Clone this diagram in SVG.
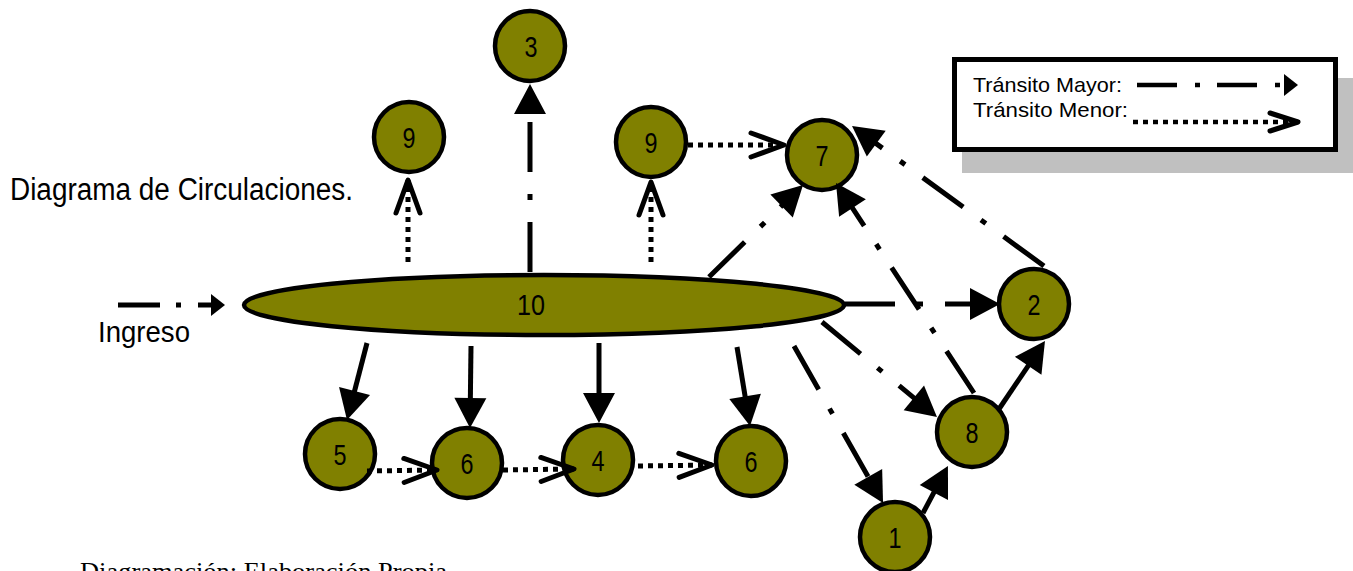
<svg xmlns="http://www.w3.org/2000/svg" width="1353" height="571" viewBox="0 0 1353 571">
  <style>
    .nd { fill: #808000; stroke: #000; stroke-width: 4.5; }
    .lbl { font-family: "Liberation Sans", Arial, sans-serif; font-size: 30px; fill: #000; text-anchor: middle; }
    .txt { font-family: "Liberation Sans", Arial, sans-serif; fill: #000; }
    .major { stroke: #000; stroke-width: 5; fill: none; stroke-dasharray: 50 22 6 22; marker-end: url(#tri); }
    .solid { stroke: #000; stroke-width: 5; fill: none; marker-end: url(#tri); }
    .minor { stroke: #000; stroke-width: 5; fill: none; stroke-dasharray: 5 5; marker-end: url(#chev); }
  </style>
  <defs>
    <marker id="tri" markerUnits="userSpaceOnUse" markerWidth="40" markerHeight="40" refX="22" refY="16" orient="auto" overflow="visible">
      <path d="M0,0 L30,16 L0,32 Z" fill="#000"/>
    </marker>
    <marker id="triS" markerUnits="userSpaceOnUse" markerWidth="20" markerHeight="26" refX="0" refY="11" orient="auto" overflow="visible">
      <path d="M0,0 L14,11 L0,22 Z" fill="#000"/>
    </marker>
    <marker id="chev" markerUnits="userSpaceOnUse" markerWidth="50" markerHeight="40" refX="35" refY="14" orient="auto" overflow="visible">
      <path d="M2,2 L35,14 L2,26" fill="none" stroke="#000" stroke-width="5" stroke-linecap="round" stroke-linejoin="round"/>
    </marker>
    <marker id="chevS" markerUnits="userSpaceOnUse" markerWidth="40" markerHeight="30" refX="30" refY="11" orient="auto" overflow="visible">
      <path d="M2,2 L30,11 L2,20" fill="none" stroke="#000" stroke-width="5" stroke-linecap="round" stroke-linejoin="round"/>
    </marker>
  </defs>

  <rect x="0" y="0" width="1353" height="571" fill="#fff"/>

  <!-- Titles -->
  <text class="txt" x="10" y="200" font-size="31" textLength="343" lengthAdjust="spacingAndGlyphs">Diagrama de Circulaciones.</text>
  <text class="txt" x="98" y="342" font-size="30" textLength="92" lengthAdjust="spacingAndGlyphs">Ingreso</text>
  <text x="80" y="580" font-family="'Liberation Serif', 'Times New Roman', serif" font-size="26" textLength="367" lengthAdjust="spacingAndGlyphs" fill="#000">Diagramación: Elaboración Propia</text>

  <!-- Legend -->
  <g id="legend">
    <rect x="962" y="78" width="391" height="95" fill="#c0c0c0"/>
    <rect x="954.5" y="59.5" width="381" height="90" fill="#fff" stroke="#000" stroke-width="5"/>
    <text class="txt" x="973" y="92" font-size="21" textLength="149" lengthAdjust="spacingAndGlyphs">Tránsito Mayor:</text>
    <text class="txt" x="973" y="117" font-size="21" textLength="155" lengthAdjust="spacingAndGlyphs">Tránsito Menor:</text>
    <line x1="1137" y1="85" x2="1284" y2="85" stroke="#000" stroke-width="4.5" stroke-dasharray="40 18 5 17" marker-end="url(#triS)"/>
    <line x1="1133" y1="122" x2="1298" y2="122" stroke="#000" stroke-width="4.5" stroke-dasharray="5 5" marker-end="url(#chevS)"/>
  </g>

  <!-- Nodes -->
  <g id="node10"><ellipse class="nd" cx="544" cy="305" rx="300" ry="30"/><text class="lbl" x="531" y="315" textLength="28" lengthAdjust="spacingAndGlyphs">10</text></g>
  <g id="node3"><circle class="nd" cx="530" cy="46" r="35"/><text class="lbl" x="531" y="57" textLength="13" lengthAdjust="spacingAndGlyphs">3</text></g>
  <g id="node9a"><circle class="nd" cx="409" cy="137" r="35"/><text class="lbl" x="409" y="148" textLength="13" lengthAdjust="spacingAndGlyphs">9</text></g>
  <g id="node9b"><circle class="nd" cx="651" cy="142" r="35"/><text class="lbl" x="651" y="153" textLength="13" lengthAdjust="spacingAndGlyphs">9</text></g>
  <g id="node7"><circle class="nd" cx="822" cy="155" r="35"/><text class="lbl" x="822" y="166" textLength="13" lengthAdjust="spacingAndGlyphs">7</text></g>
  <g id="node2"><circle class="nd" cx="1034" cy="304" r="35"/><text class="lbl" x="1034" y="315" textLength="13" lengthAdjust="spacingAndGlyphs">2</text></g>
  <g id="node8"><circle class="nd" cx="972" cy="432" r="35"/><text class="lbl" x="972" y="443" textLength="13" lengthAdjust="spacingAndGlyphs">8</text></g>
  <g id="node1"><circle class="nd" cx="895" cy="537" r="35"/><text class="lbl" x="895" y="548" textLength="13" lengthAdjust="spacingAndGlyphs">1</text></g>
  <g id="node5"><circle class="nd" cx="340" cy="454" r="35"/><text class="lbl" x="340" y="465" textLength="13" lengthAdjust="spacingAndGlyphs">5</text></g>
  <g id="node6a"><circle class="nd" cx="467" cy="463" r="35"/><text class="lbl" x="467" y="474" textLength="13" lengthAdjust="spacingAndGlyphs">6</text></g>
  <g id="node4"><circle class="nd" cx="598" cy="460" r="35"/><text class="lbl" x="598" y="471" textLength="13" lengthAdjust="spacingAndGlyphs">4</text></g>
  <g id="node6b"><circle class="nd" cx="751" cy="461" r="35"/><text class="lbl" x="751" y="472" textLength="13" lengthAdjust="spacingAndGlyphs">6</text></g>

  <!-- Connectors -->
  <g id="connectors">
    <!-- Ingreso -->
    <line x1="118" y1="305" x2="211" y2="305" stroke="#000" stroke-width="5" stroke-dasharray="42 16 5 17" marker-end="url(#triS)"/>
    <!-- Tránsito mayor -->
    <line class="major" x1="530" y1="272" x2="530" y2="92"/>
    <line class="major" x1="709" y1="277" x2="797.3" y2="190.6"/>
    <line class="major" x1="1044" y1="266" x2="858.5" y2="130.7"/>
    <line class="major" x1="974" y1="393" x2="840.4" y2="189.7"/>
    <line class="major" x1="845" y1="304" x2="992" y2="304"/>
    <line class="major" x1="822" y1="322" x2="930.8" y2="411.9"/>
    <line class="major" x1="794" y1="346" x2="879.1" y2="496"/>
    <!-- Solid -->
    <line class="solid" x1="923" y1="513" x2="944.2" y2="473.1"/>
    <line class="solid" x1="999" y1="409" x2="1040.5" y2="347.6"/>
    <line class="solid" x1="367" y1="343" x2="349" y2="412.3"/>
    <line class="solid" x1="471" y1="346" x2="470.1" y2="420"/>
    <line class="solid" x1="599" y1="343" x2="599" y2="415"/>
    <line class="solid" x1="737" y1="347" x2="748.7" y2="418.1"/>
    <!-- Tránsito menor -->
    <line class="minor" x1="408" y1="262" x2="408" y2="180"/>
    <line class="minor" x1="651" y1="262" x2="651" y2="182"/>
    <line class="minor" x1="688" y1="145" x2="784" y2="145"/>
    <line class="minor" x1="367" y1="471" x2="437" y2="470"/>
    <line class="minor" x1="503" y1="470" x2="574" y2="469"/>
    <line class="minor" x1="638" y1="466" x2="712" y2="465"/>
  </g>
</svg>
